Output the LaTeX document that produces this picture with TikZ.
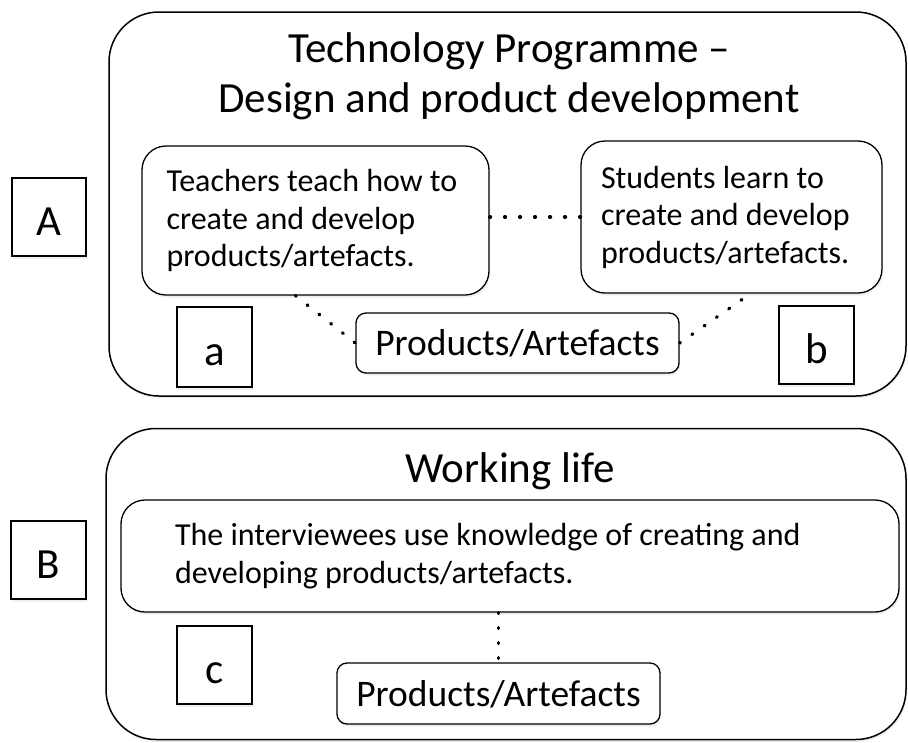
\documentclass[tikz,border=0pt]{standalone}
\usepackage{fontspec}
\setmainfont{Carlito}
\usetikzlibrary{shadows}

\tikzset{
    soft/.style={drop shadow={opacity=0.12, shadow xshift=1pt, shadow yshift=-2.5pt}},
    panel/.style={draw, fill=white, soft, rounded corners=50pt, line width=1.5pt},
    card/.style={draw, fill=white, soft, rounded corners=24pt, line width=1.3pt, align=flush left,
        inner sep=0pt, font=\fontsize{32}{37.5}\selectfont},
    item/.style={draw, fill=white, soft, rounded corners=10pt, line width=1.3pt, text height=25pt,
        text depth=0pt, font=\fontsize{37.5}{44}\selectfont},
    tag/.style={draw, fill=white, soft, line width=1.3pt, text height=36pt, text depth=0pt,
        font=\fontsize{43}{50}\selectfont},
    heading/.style={align=center, inner sep=0pt, font=\fontsize{43}{50}\selectfont},
    link/.style={line width=3.5pt, dash pattern=on 0.8pt off 14.2pt, line cap=round},
}

\begin{document}
\begin{tikzpicture}[x=1pt, y=-1pt]
    \useasboundingbox (0,0) rectangle (908,742);

    \node[panel, minimum width=797pt, minimum height=384pt] (progA) at (507.5,204) {};
    \node[panel, minimum width=800pt, minimum height=311pt] (workB) at (506,584) {};

    \node[tag, minimum width=74pt, minimum height=78pt] (labA) at (49,217) {A};
    \node[tag, minimum width=75pt, minimum height=78pt] (labB) at (48.5,560) {B};

    \node[heading] (titleA) at (509,76) {Technology Programme --\\Design and product development};
    \node[heading] (titleB) at (510,471) {Working life};

    \node[card, minimum width=347pt, minimum height=149pt, text width=298pt] (teach) at (315.5,220.5)
        {Teachers teach how to\\create and develop\\products/artefacts.};
    \node[card, minimum width=301pt, minimum height=152pt, text width=261pt] (learn) at (731.5,217)
        {Students learn to\\create and develop\\products/artefacts.};
    \node[card, minimum width=778pt, minimum height=112pt, text width=670pt] (use) at (510,556)
        {The interviewees use knowledge of creating and\\developing products/artefacts.};

    \node[item, minimum width=323pt, minimum height=60pt] (prodA) at (517.5,343) {Products/Artefacts};
    \node[item, minimum width=323pt, minimum height=61pt] (prodB) at (498.5,693.5) {Products/Artefacts};

    \node[tag, minimum width=75pt, minimum height=80pt] (taga) at (214.5,347) {a};
    \node[tag, minimum width=75pt, minimum height=78pt] (tagb) at (816.5,345) {b};
    \node[tag, minimum width=75pt, minimum height=78pt] (tagc) at (214.5,665) {c};

    \draw[link] (teach.east |- learn.west) -- (learn.west);
    \draw[link] ([xshift=-20pt]teach.south) -- (prodA.west);
    \draw[link] (prodA.east) -- ([xshift=19pt]learn.south);
    \draw[link] (prodB.north |- use.south) -- (prodB.north);

\end{tikzpicture}
\end{document}
